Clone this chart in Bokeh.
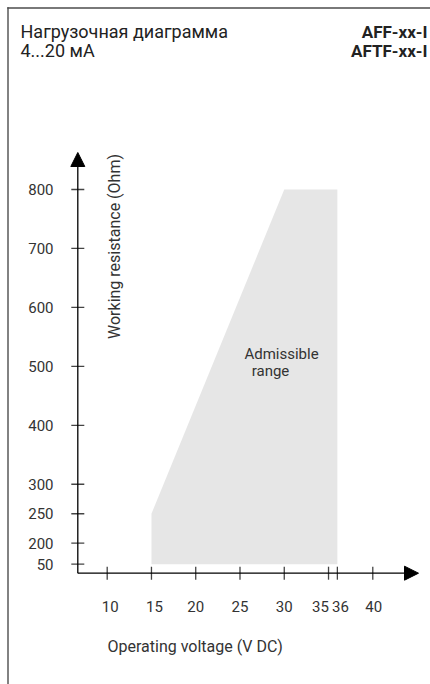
import numpy as np
from bokeh.plotting import figure
from bokeh.models import Range1d, Arrow, NormalHead, ColumnDataSource
from bokeh.core.properties import value
from bokeh.embed import file_html
from bokeh.resources import INLINE

# ---------------- data ----------------
title_left = ["Нагрузочная диаграмма", "4...20 мА"]
title_right = ["AFF-xx-I", "AFTF-xx-I"]

x_ticks = [10, 15, 20, 25, 30, 35, 36, 40]
x_tick_labels = ["10", "15", "20", "25", "30", "35", "36", "40"]
y_ticks = [50, 200, 250, 300, 400, 500, 600, 700, 800]
y_tick_labels = ["50", "200", "250", "300", "400", "500", "600", "700", "800"]

region_voltage = [15, 15, 30, 36, 36]          # V DC
region_resistance = [50, 250, 800, 800, 50]     # Ohm
region_label = ["Admissible", "range"]

x_title = "Operating voltage  (V DC)"
y_title = "Working resistance  (Ohm)"

# ---------------- layout helpers ----------------
W, H = 430, 684
XPX0, XS = 18.17, 8.853        # page px of 0 V, px per volt
Y200, YS = 542.7, 0.5895       # page px of 200 Ohm, px per Ohm
BREAK = 0.237                  # compression of the axis below 200 Ohm


def y_pos(v):
    v = np.asarray(v, dtype=float)
    return np.where(v >= 200, v, 200 - (200 - v) * BREAK)


def dx(page_x):
    return (page_x - XPX0) / XS


def dy(page_y):
    return 200 + (Y200 - page_y) / YS


FONT = value("Roboto")
TXT = "#333333"

p = figure(width=W, height=H,
           x_range=Range1d(dx(0), dx(W)), y_range=Range1d(dy(H), dy(0)),
           x_axis_type=None, y_axis_type=None,
           toolbar_location=None, output_backend="svg",
           min_border=0, outline_line_color=None,
           background_fill_color="white", border_fill_color="white")
p.grid.visible = False

# frame (left and top edges of the sheet) as thin filled strips
p.quad(left=[dx(6.8), dx(6.8)], right=[dx(8.2), dx(W + 2)],
       top=[dy(6.8), dy(6.8)], bottom=[dy(H + 2), dy(8.2)],
       fill_color="#4d4d4d", line_color=None)

# admissible region
p.patch(region_voltage, y_pos(region_resistance), fill_color="#e6e6e6", line_color=None)

# axes
ax_x = dx(77.3)
ax_y = dy(572.7)
p.add_layout(Arrow(end=NormalHead(size=14, fill_color="black", line_color="black", line_width=1),
                   x_start=ax_x, y_start=ax_y, x_end=dx(418), y_end=ax_y,
                   line_color="black", line_width=1.3))
p.add_layout(Arrow(end=NormalHead(size=14, fill_color="black", line_color="black", line_width=1),
                   x_start=ax_x, y_start=ax_y, x_end=ax_x, y_end=dy(152),
                   line_color="black", line_width=1.3))

# ticks
p.scatter(x_ticks, [ax_y] * len(x_ticks), marker="dash", size=13, angle=np.pi / 2,
          line_color="#444444", line_width=1.3)
p.scatter([ax_x] * len(y_ticks), y_pos(y_ticks), marker="dash", size=13,
          line_color="#444444", line_width=1.3)

# tick labels
x_label_shift = [3, 3, 0, 0, 0, -8, 3, 1]   # px
xsrc = ColumnDataSource(dict(
    x=[t + s / XS for t, s in zip(x_ticks, x_label_shift)],
    y=[dy(606)] * len(x_ticks), text=x_tick_labels))
p.text("x", "y", text="text", source=xsrc, text_align="center", text_baseline="alphabetic",
       text_font=FONT, text_font_size="15px", text_color=TXT)

ysrc = ColumnDataSource(dict(x=[dx(53)] * len(y_ticks), y=y_pos(y_ticks), text=y_tick_labels))
p.text("x", "y", text="text", source=ysrc, text_align="right", text_baseline="middle",
       text_font=FONT, text_font_size="15px", text_color=TXT)

# axis titles
p.text([dx(107)], [dy(646)], text=[x_title], text_align="left", text_baseline="alphabetic",
       text_font=FONT, text_font_size="16px", text_color=TXT)
p.text([dx(114)], [dy(244)], text=[y_title], angle=np.pi / 2, text_align="center",
       text_baseline="middle", text_font=FONT, text_font_size="16px", text_color=TXT)

# region label
p.text([dx(281), dx(270)], [dy(353), dy(370)], text=region_label, text_align="center",
       text_baseline="alphabetic", text_font=FONT, text_font_size="15px", text_color=TXT)

# header
p.text([dx(20)] * 2, [dy(31), dy(50)], text=title_left, text_align="left",
       text_baseline="alphabetic", text_font=FONT, text_font_size="18px", text_color="#222222")
p.text([dx(427)] * 2, [dy(31), dy(50)], text=title_right, text_align="right",
       text_baseline="alphabetic", text_font=FONT, text_font_size="17px",
       text_font_style="bold", text_color="#222222")

open("out.html", "w").write(file_html(p, INLINE))
